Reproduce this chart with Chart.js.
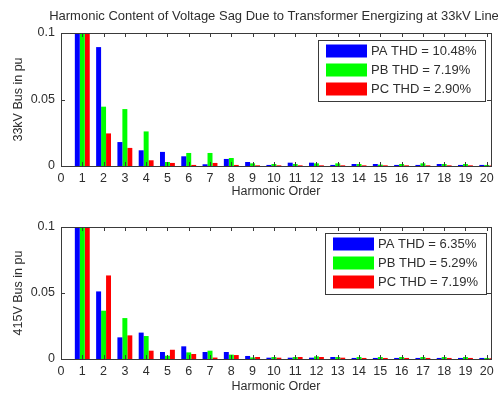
<!DOCTYPE html>
<html>
<head>
<meta charset="utf-8">
<script src="https://cdn.jsdelivr.net/npm/chart.js@4"></script>
<style>
  html, body { margin: 0; padding: 0; background: #fff; }
  #wrap { position: relative; width: 498px; height: 394px; }
  .panel { position: absolute; left: 0; width: 498px; }
  #top { top: 0; height: 200px; }
  #bottom { top: 200px; height: 194px; }
</style>
</head>
<body>
<div id="wrap">
  <div class="panel" id="top"><canvas id="chart33"></canvas></div>
  <div class="panel" id="bottom"><canvas id="chart415"></canvas></div>
</div>
<script>
/* harmonic order 1..20 */
const harmonics = [1, 2, 3, 4, 5, 6, 7, 8, 9, 10, 11, 12, 13, 14, 15, 16, 17, 18, 19, 20];
const phases = ['PA', 'PB', 'PC'];

/* 33kV bus, per-unit magnitude per harmonic (fundamental = 1 pu) */
const pa33 = [1, 0.0894, 0.018, 0.0118, 0.0106, 0.0073, 0.0013, 0.0053, 0.003, 0.0008, 0.0025, 0.0025, 0.0008, 0.0015, 0.0015, 0.0008, 0.0008, 0.0015, 0.0008, 0.0008];
const pb33 = [1, 0.0446, 0.0428, 0.026, 0.003, 0.0098, 0.0098, 0.006, 0.002, 0.0015, 0.0015, 0.002, 0.002, 0.0015, 0.001, 0.0015, 0.002, 0.0015, 0.0015, 0.0008];
const pc33 = [1, 0.0245, 0.0136, 0.0043, 0.0023, 0.0008, 0.0023, 0.0008, 0.0005, 0.0005, 0.0005, 0.0005, 0.0005, 0.0005, 0.0005, 0.0005, 0.0005, 0.0005, 0.0005, 0.0003];
const thd33 = ['10.48', '7.19', '2.90'];

/* 415V bus */
const pa415 = [1, 0.0512, 0.0164, 0.02, 0.0053, 0.0096, 0.0053, 0.0053, 0.0023, 0.001, 0.001, 0.001, 0.0015, 0.0008, 0.0008, 0.0008, 0.0008, 0.0008, 0.0008, 0.0008];
const pb415 = [1, 0.0366, 0.031, 0.0174, 0.0025, 0.005, 0.0063, 0.0033, 0.0012, 0.0015, 0.0015, 0.002, 0.0015, 0.0015, 0.0015, 0.0015, 0.0015, 0.0015, 0.0015, 0.0008];
const pc415 = [1, 0.0633, 0.0179, 0.0063, 0.007, 0.0038, 0.0011, 0.003, 0.0015, 0.001, 0.0015, 0.0015, 0.001, 0.0008, 0.0008, 0.0008, 0.0008, 0.0008, 0.0008, 0.0005];
const thd415 = ['6.35', '5.29', '7.19'];

const yTicks = [0, 0.05, 0.1];
const phaseColors = ['#0000ff', '#00ff00', '#ff0000'];

const FONT = "'Liberation Sans', Arial, Helvetica, sans-serif";
const INK = '#2e2e2e';
Chart.defaults.font.family = FONT;
Chart.defaults.color = INK;

/* figure title above the axes box */
const figTitle = {
  id: 'figTitle',
  afterDraw(chart, args, opts) {
    if (!opts.text) return;
    const {ctx, chartArea} = chart;
    ctx.save();
    ctx.font = '13px ' + FONT;
    ctx.fillStyle = INK;
    ctx.textAlign = 'center';
    ctx.textBaseline = 'middle';
    ctx.fillText(opts.text, (chartArea.left + chartArea.right) / 2 - 2, opts.y);
    ctx.restore();
  }
};

/* matlab style box: frame on all sides, ticks pointing inwards */
const axesBox = {
  id: 'axesBox',
  afterDatasetsDraw(chart) {
    const {ctx, chartArea: a, scales: {x, y}} = chart;
    ctx.save();
    ctx.strokeStyle = '#3a3a3a';
    ctx.lineWidth = 1;
    ctx.beginPath();
    x.ticks.forEach(function(t) {
      const px = Math.round(x.getPixelForValue(t.value)) + 0.5;
      ctx.moveTo(px, a.bottom); ctx.lineTo(px, a.bottom - 4);
      ctx.moveTo(px, a.top); ctx.lineTo(px, a.top + 4);
    });
    y.ticks.forEach(function(t) {
      const py = Math.round(y.getPixelForValue(t.value)) + 0.5;
      ctx.moveTo(a.left, py); ctx.lineTo(a.left + 4, py);
      ctx.moveTo(a.right, py); ctx.lineTo(a.right - 4, py);
    });
    ctx.stroke();
    ctx.strokeRect(Math.round(a.left) + 0.5, Math.round(a.top) + 0.5,
      Math.round(a.right - a.left), Math.round(a.bottom - a.top));
    ctx.restore();
  }
};

/* boxed legend in the upper right corner of the axes */
const boxLegend = {
  id: 'boxLegend',
  afterDraw(chart, args, opts) {
    const {ctx, chartArea: a} = chart;
    const sets = chart.data.datasets;
    ctx.save();
    ctx.font = '13px ' + FONT;
    let textW = 0;
    sets.forEach(function(ds) { textW = Math.max(textW, ctx.measureText(ds.label).width); });
    const pad = 8, sw = 41, sh = 13, gap = 4, row = 19;
    const w = pad + sw + gap + textW + pad;
    const h = row * sets.length + 4;
    const right = a.right - opts.right;
    const left = Math.round(right - w);
    const top = a.top + opts.top;
    ctx.fillStyle = '#fff';
    ctx.fillRect(left, top, right - left, h);
    ctx.strokeStyle = '#3a3a3a';
    ctx.strokeRect(left + 0.5, top + 0.5, right - left, h);
    sets.forEach(function(ds, i) {
      const cy = top + 11 + i * row;
      ctx.fillStyle = ds.backgroundColor;
      ctx.fillRect(left + pad, cy - sh / 2, sw, sh);
      ctx.fillStyle = INK;
      ctx.textAlign = 'left';
      ctx.textBaseline = 'middle';
      ctx.fillText(ds.label, left + pad + sw + gap, cy + 0.5);
    });
    ctx.restore();
  }
};

function buildChart(canvasId, series, thd, yTitle, opts) {
  const datasets = series.map(function(values, i) {
    return {
      label: phases[i] + ' THD = ' + thd[i] + '%',
      data: harmonics.map(function(h, k) { return {x: h, y: values[k]}; }),
      backgroundColor: phaseColors[i],
      borderWidth: 0,
      categoryPercentage: 0.7,
      barPercentage: 1.0,
    };
  });

  return new Chart(document.getElementById(canvasId), {
    type: 'bar',
    data: { datasets: datasets },
    plugins: [figTitle, axesBox, boxLegend],
    options: {
      responsive: true,
      maintainAspectRatio: false,
      animation: false,
      layout: { padding: { top: opts.top, right: 7, left: 0, bottom: 0 } },
      scales: {
        x: {
          type: 'linear',
          min: 0,
          max: 20.2,
          offset: false,
          grid: { display: false, drawTicks: false },
          border: { display: false },
          ticks: {
            stepSize: 1,
            includeBounds: false,
            autoSkip: false,
            maxRotation: 0,
            maxTicksLimit: 40,
            padding: 5,
            font: { size: 12.5 },
          },
          title: {
            display: true,
            text: 'Harmonic Order',
            font: { size: 12.5 },
            padding: { top: 0, bottom: opts.xTitlePad },
          },
          afterFit(scale) {
            scale.height = opts.xAxisH;
            scale.paddingLeft = 0;
            scale.paddingRight = 0;
          },
        },
        y: {
          min: 0,
          max: 0.1,
          grid: { display: false, drawTicks: false },
          border: { display: false },
          afterBuildTicks(scale) {
            scale.ticks = yTicks.map(function(v) { return {value: v}; });
          },
          ticks: {
            padding: 6,
            font: { size: 12.5 },
            callback: function(v) { return String(v); },
          },
          title: {
            display: true,
            text: yTitle,
            font: { size: 12.5 },
            padding: { top: 11, bottom: 0 },
          },
          afterFit(scale) {
            scale.width = 61;
            scale.paddingTop = 0;
            scale.paddingBottom = 0;
          },
        },
      },
      plugins: {
        legend: { display: false },
        tooltip: { enabled: false },
        figTitle: { text: opts.title, y: 16 },
        boxLegend: { right: opts.legendRight, top: opts.legendTop },
      },
    },
  });
}

buildChart('chart33', [pa33, pb33, pc33], thd33, '33kV Bus in pu', {
  title: 'Harmonic Content of Voltage Sag Due to Transformer Energizing at 33kV Line',
  top: 33, xAxisH: 34, xTitlePad: 1, legendRight: 6, legendTop: 7,
});

buildChart('chart415', [pa415, pb415, pc415], thd415, '415V Bus in pu', {
  title: '',
  top: 27, xAxisH: 35, xTitlePad: 0, legendRight: 5, legendTop: 6,
});
</script>
</body>
</html>
